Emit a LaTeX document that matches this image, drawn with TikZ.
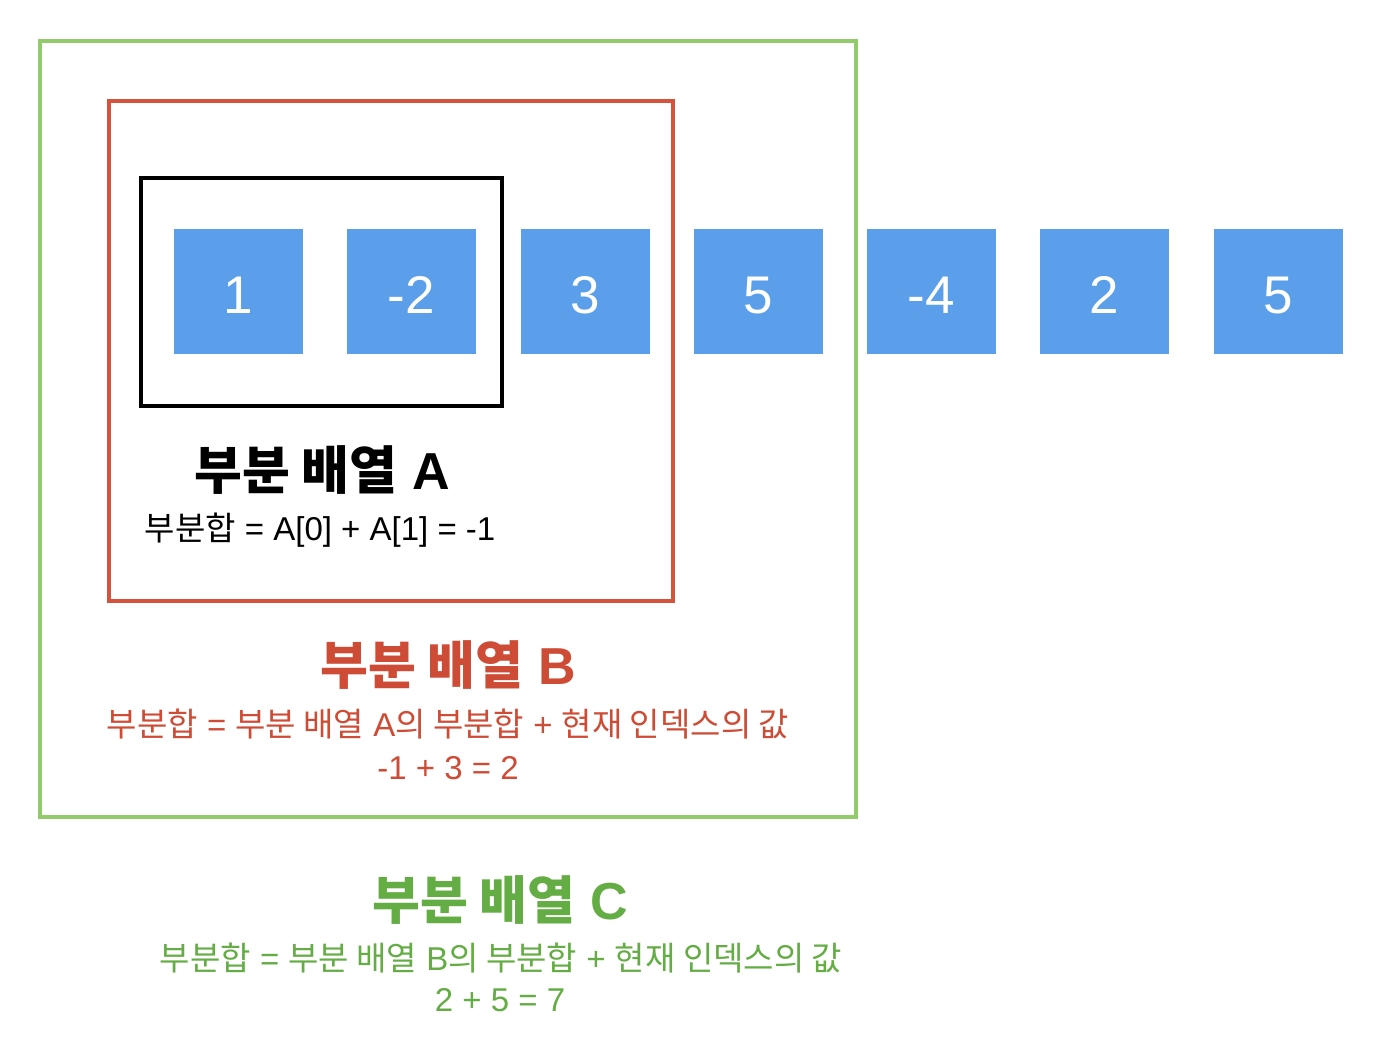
\documentclass[tikz,border=0pt]{standalone}
\usepackage{fontspec}
\setmainfont{Liberation Sans}
\newfontfamily\kr{Noto Sans CJK KR}
\newcommand\K[1]{{\kr #1}}
\definecolor{cellblue}{HTML}{5B9FEB}
\definecolor{framegreen}{HTML}{92CB6C}
\definecolor{textgreen}{HTML}{64AC44}
\definecolor{framered}{HTML}{D5533C}
\definecolor{textred}{HTML}{CE4B35}
\begin{document}
\begin{tikzpicture}[x=1pt,y=-1pt,
  cell/.style={fill=cellblue,text=white,minimum width=129pt,minimum height=125pt,inner sep=0pt,text height=44pt,text depth=0pt,font=\fontsize{53}{60}\selectfont},
  frame/.style={draw,line width=4pt,inner sep=0pt,fill=none},
  title/.style={font=\fontsize{52}{62}\selectfont\bfseries,inner sep=0pt},
  sub/.style={font=\fontsize{33}{42}\selectfont,inner sep=0pt,align=center}]
\useasboundingbox (0,0) rectangle (1394,1046);
\node[frame,draw=framegreen,minimum width=816pt,minimum height=776pt] (frameC) at (448,429) {};
\node[frame,draw=framered,minimum width=564pt,minimum height=500pt] (frameB) at (391,351) {};
\node[frame,draw=black,line width=4.5pt,minimum width=361pt,minimum height=228pt] (frameA) at (321.5,292) {};
\node[cell] (c1) at (238.5,291.5) {1};
\node[cell] (c2) at (411.5,291.5) {-2};
\node[cell] (c3) at (585,291.5) {3};
\node[cell] (c4) at (758.5,291.5) {5};
\node[cell] (c5) at (931.5,291.5) {-4};
\node[cell] (c6) at (1104.5,291.5) {2};
\node[cell] (c7) at (1278.5,291.5) {5};
\node[title] (tA) at (322,470) {\K{부분 배열} A};
\node[sub] (sA) at (320,530) {\K{부분합} = A[0] + A[1] = -1};
\node[title,text=textred] (tB) at (448,665) {\K{부분 배열} B};
\node[sub,text=textred] (sB) at (448,724) {\K{부분합} = \K{부분 배열} A\K{의 부분합} + \K{현재 인덱스의 값}};
\node[sub,text=textred] (sB2) at (448,768) {-1 + 3 = 2};
\node[title,text=textgreen] (tC) at (500,900) {\K{부분 배열} C};
\node[sub,text=textgreen] (sC) at (501,958) {\K{부분합} = \K{부분 배열} B\K{의 부분합} + \K{현재 인덱스의 값}};
\node[sub,text=textgreen] (sC2) at (500,1000) {2 + 5 = 7};
\end{tikzpicture}
\end{document}
